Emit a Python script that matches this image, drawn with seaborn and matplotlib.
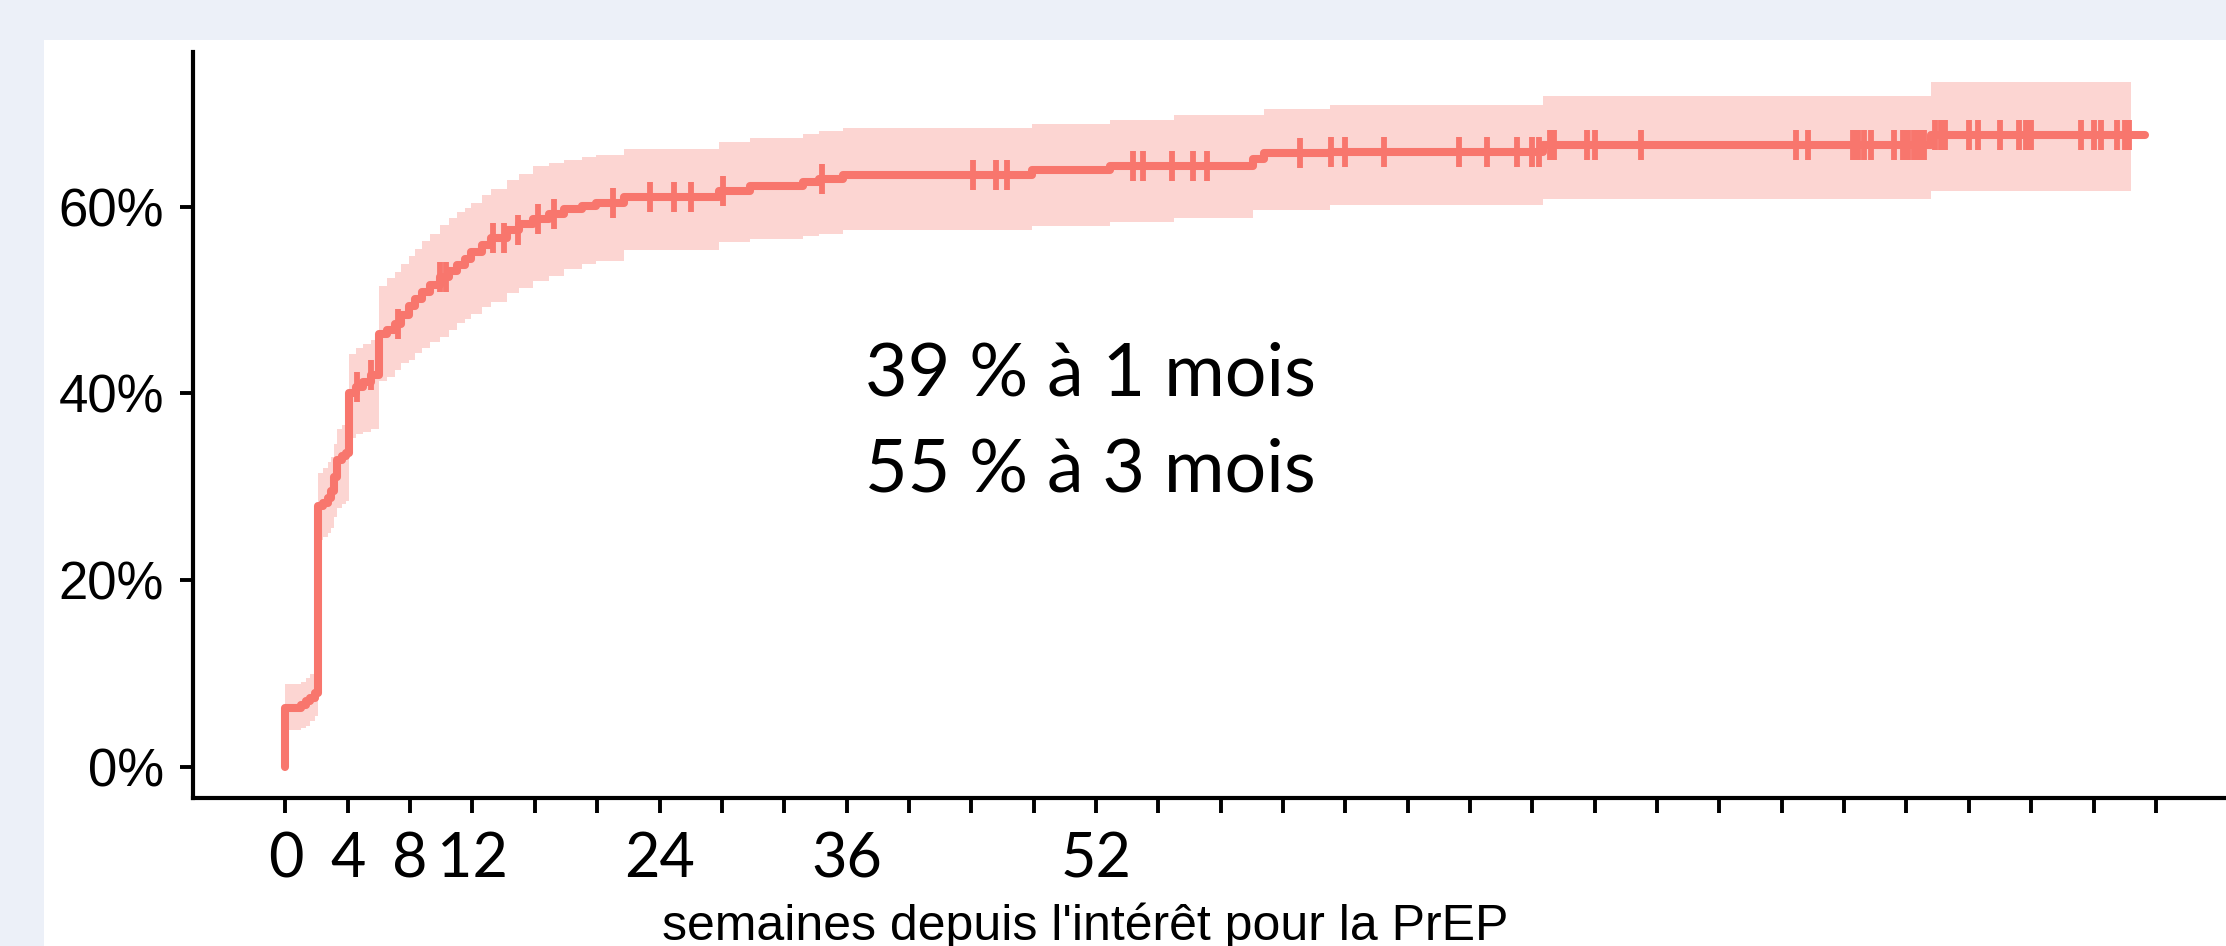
import numpy as np
import pandas as pd
import matplotlib
matplotlib.use('Agg')
import matplotlib.pyplot as plt
import seaborn as sns
from matplotlib.patches import Rectangle

# ---- données (semaines, % cumulé, IC bas, IC haut) ----
semaines = [0, 0, 1.0, 1.3, 1.6, 1.9, 2.07, 2.4, 2.7, 2.9, 3.1, 3.3, 3.6, 3.9,
            4.08, 4.5, 5.0, 5.5, 6.0, 6.5, 7.0, 7.4, 7.9, 8.3, 8.75, 9.3, 9.9,
            10.5, 11.0, 11.5, 11.9, 12.6, 13.2, 14.2, 15.0, 15.9, 16.9, 17.9,
            19.0, 19.9, 21.7, 27.8, 29.8, 33.2, 34.2, 35.8, 47.9, 52.9, 57.0,
            62.1, 62.8, 67.0, 80.7, 105.6]
cumul = [0, 6.3, 6.6, 7.0, 7.4, 7.9, 27.9, 28.3, 28.8, 29.5, 31.0, 32.9, 33.3, 33.6,
         40.0, 40.7, 41.2, 42.0, 46.3, 46.8, 47.4, 48.4, 49.4, 50.1, 50.8, 51.6, 52.5,
         53.1, 53.7, 54.4, 55.1, 55.9, 56.6, 57.5, 58.1, 58.7, 59.2, 59.7,
         60.1, 60.4, 61.0, 61.7, 62.25, 62.6, 63.0, 63.4, 63.9, 64.4, 64.4,
         65.1, 65.7, 65.9, 66.6, 67.7]
ic_bas = [0, 3.9, 4.1, 4.4, 4.9, 5.4, 24.3, 24.6, 25.0, 25.6, 26.8, 27.7, 28.1, 28.5,
          35.2, 35.6, 35.9, 36.2, 41.3, 41.8, 42.5, 43.2, 43.6, 44.3, 44.9, 45.5, 46.0,
          46.8, 47.5, 48.0, 48.5, 49.2, 49.8, 50.7, 51.3, 52.0, 52.6, 53.3,
          53.8, 54.2, 55.3, 56.2, 56.5, 56.9, 57.1, 57.5, 57.9, 58.4, 58.8,
          59.6, 59.6, 60.2, 60.8, 61.7]
ic_haut = [0, 8.9, 9.1, 9.5, 9.9, 10.4, 31.5, 32.0, 32.6, 33.2, 34.6, 36.2, 36.6, 37.0,
           44.2, 44.8, 45.3, 45.7, 51.5, 52.3, 53.0, 53.8, 54.7, 55.5, 56.3, 57.1, 58.0,
           58.8, 59.4, 59.9, 60.4, 61.2, 61.9, 62.8, 63.5, 64.3, 64.7, 65.0,
           65.3, 65.5, 66.2, 66.9, 67.4, 67.8, 68.1, 68.4, 68.9, 69.3, 69.8,
           69.8, 70.5, 70.9, 71.8, 73.3]
fin_suivi = 119.3
fin_ic = 118.4

# censures (semaines)
censures = [4.6, 5.5, 7.2, 9.9, 10.3, 13.3, 14.0, 14.9, 16.2, 17.2, 21.0, 23.4,
            24.9, 26.0, 28.1, 34.4, 44.1, 45.6, 46.3, 54.4, 55.0, 56.9, 58.2,
            59.1, 65.1, 67.1, 68.0, 70.5, 75.3, 77.1, 79.0, 80.0, 80.4, 81.1,
            81.4, 83.5, 84.0, 87.0, 96.9, 97.7, 100.6, 100.9, 101.3, 101.7,
            103.2, 103.8, 104.1, 104.5, 104.8, 105.1, 105.8, 106.2, 106.5,
            108.0, 108.6, 110.0, 111.2, 111.7, 112.0, 115.2, 116.0, 116.5,
            117.5, 118.0, 118.3]

xtick_pos = list(range(0, 121, 4))
xtick_lab = ['0', '4', '8', '12', '', '', '24', '', '', '36', '', '', '', '52'] + [''] * 17
ytick_pos = [0, 20, 40, 60]
ytick_lab = ['0%', '20%', '40%', '60%']

ROUGE = '#F8766D'
FOND = '#ECF0F8'

sns.set_theme(style='white')
plt.rcParams['font.family'] = ['Liberation Sans', 'DejaVu Sans']

courbe = pd.DataFrame({'t': semaines + [fin_suivi], 'pct': cumul + [cumul[-1]]})
bande = pd.DataFrame({'t': semaines + [fin_ic], 'bas': ic_bas + [ic_bas[-1]],
                      'haut': ic_haut + [ic_haut[-1]]})
idx = np.searchsorted(np.array(semaines), np.array(censures), side='right') - 1
cens = pd.DataFrame({'t': censures, 'pct': np.array(cumul)[idx]})

W, H = 2226, 946
fig = plt.figure(figsize=(W / 100, H / 100), dpi=100, facecolor=FOND)
fig.patches.append(Rectangle((44 / W, 0), 1, (H - 40) / H, transform=fig.transFigure,
                             facecolor='white', edgecolor='none', zorder=-1))
ax = fig.add_axes([193 / W, (H - 798) / H, (W - 193) / W, (798 - 52) / H])
ax.set_facecolor('white')

ax.fill_between(bande['t'], bande['bas'], bande['haut'], step='post',
                color=ROUGE, alpha=0.3, linewidth=0, zorder=1)
sns.lineplot(data=courbe, x='t', y='pct', estimator=None, sort=False,
             drawstyle='steps-post', color=ROUGE, linewidth=5.8, ax=ax, zorder=2)
ax.plot(cens['t'], cens['pct'], linestyle='none', marker='|', markersize=22,
        markeredgewidth=4.2, color=ROUGE, zorder=3)

ax.set_xlim(-5.93, 124.5)
ax.set_ylim(-3.35, 76.56)

ax.set_yticks(ytick_pos)
ax.set_yticklabels(ytick_lab, fontsize=38, family=['Liberation Sans', 'DejaVu Sans'])
ax.set_xticks(xtick_pos)
ax.set_xticklabels(xtick_lab, fontsize=44, family=['Lato', 'DejaVu Sans'])
ax.tick_params(axis='y', length=9.4, width=2.8, pad=11.5, colors='black', left=True)
ax.tick_params(axis='x', length=11, width=2.8, pad=13, colors='black', bottom=True)

for s in ['top', 'right']:
    ax.spines[s].set_visible(False)
for s in ['left', 'bottom']:
    ax.spines[s].set_color('black')
    ax.spines[s].set_linewidth(3)

ax.set_ylabel('')
ax.set_xlabel("semaines depuis l'intérêt pour la PrEP", fontsize=36, color='black')
ax.xaxis.set_label_coords(0.439, -0.190)
ax.xaxis.label.set_va('baseline')

ax.text(37.2, 39.8, '39 % à 1 mois', fontsize=53, family=['Lato', 'DejaVu Sans'],
        ha='left', va='baseline', color='black')
ax.text(37.2, 29.5, '55 % à 3 mois', fontsize=53, family=['Lato', 'DejaVu Sans'],
        ha='left', va='baseline', color='black')

fig.savefig('out.png', dpi=100, facecolor=FOND)
